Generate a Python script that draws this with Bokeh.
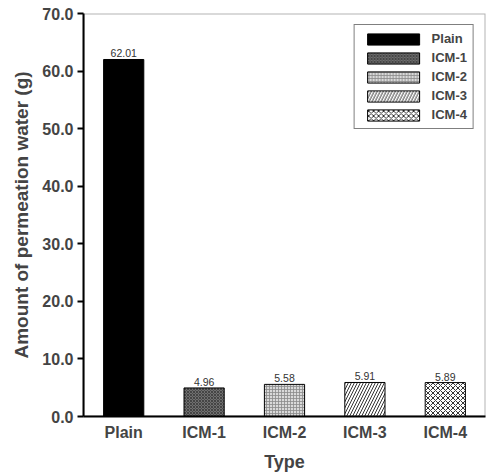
from bokeh.plotting import figure
from bokeh.models import Range1d, FixedTicker, NumeralTickFormatter, ColumnDataSource, Legend, LegendItem, LabelSet, BoxAnnotation
from bokeh.core.properties import value
from bokeh.embed import file_html
from bokeh.resources import INLINE

categories = ["Plain", "ICM-1", "ICM-2", "ICM-3", "ICM-4"]
values = [62.01, 4.96, 5.58, 5.91, 5.89]
value_labels = ["62.01", "4.96", "5.58", "5.91", "5.89"]
y_ticks = [0, 10, 20, 30, 40, 50, 60, 70]

fills = ["#000000", "#707070", "#d9d9d9", "#ffffff", "#ffffff"]
hatches = [" ", "diagonal_cross", "cross", "right_diagonal_line", "diagonal_cross"]
hatch_colors = ["#000000", "#3a3a3a", "#8a8a8a", "#000000", "#000000"]
hatch_scales = [6, 3, 3, 6, 5]

FONT = "Liberation Sans"

p = figure(x_range=categories, width=487, height=474, output_backend="svg",
           toolbar_location=None, min_border_left=83, min_border_right=2,
           min_border_top=13, min_border_bottom=58)
p.y_range = Range1d(0, 70)
p.xgrid.visible = False
p.ygrid.visible = False
p.outline_line_color = None

items = []
for i, c in enumerate(categories):
    src = ColumnDataSource(dict(x=[c], top=[values[i]]))
    r = p.vbar(x="x", top="top", width=0.5, source=src, fill_color=fills[i],
               line_color="black", line_width=1,
               hatch_pattern=hatches[i], hatch_color=hatch_colors[i],
               hatch_scale=hatch_scales[i], hatch_weight=0.8)
    items.append(LegendItem(label=c, renderers=[r]))

lab_src = ColumnDataSource(dict(x=categories, y=values, t=value_labels))
p.add_layout(LabelSet(x="x", y="y", text="t", source=lab_src, text_align="center",
                      text_baseline="bottom", y_offset=2, text_font=value(FONT),
                      text_font_size="10.5px", text_color="#333333"))

p.add_layout(BoxAnnotation(fill_alpha=0, line_color="black", line_width=2))

legend = Legend(items=items, location="top_right")
legend.margin = 11
legend.glyph_width = 65
legend.glyph_height = 14
legend.label_height = 14
legend.spacing = 4
legend.padding = 6
legend.label_standoff = 6
legend.label_text_font = FONT
legend.label_text_font_style = "bold"
legend.label_text_font_size = "13px"
legend.border_line_color = "black"
legend.border_line_width = 1
p.add_layout(legend)

ya = p.yaxis[0]
ya.ticker = FixedTicker(ticks=y_ticks)
ya.formatter = NumeralTickFormatter(format="0.0")
ya.major_tick_in = 0
ya.major_tick_out = 6
ya.minor_tick_line_color = None
ya.axis_line_width = 2
ya.major_tick_line_width = 2
ya.major_label_text_font = FONT
ya.major_label_text_font_style = "bold"
ya.major_label_text_font_size = "16px"
ya.major_label_standoff = 4
ya.axis_label = "Amount of permeation water (g)"
ya.axis_label_text_font = FONT
ya.axis_label_text_font_style = "bold"
ya.axis_label_text_font_size = "19px"
ya.axis_label_standoff = 7

xa = p.xaxis[0]
xa.major_tick_line_color = None
xa.major_tick_out = 0
xa.major_tick_in = 0
xa.minor_tick_line_color = None
xa.axis_line_width = 2
xa.major_label_text_font = FONT
xa.major_label_text_font_style = "bold"
xa.major_label_text_font_size = "16px"
xa.major_label_standoff = 7
xa.axis_label = "Type"
xa.axis_label_text_font = FONT
xa.axis_label_text_font_style = "bold"
xa.axis_label_text_font_size = "18px"
xa.axis_label_standoff = 8

open("out.html", "w").write(file_html(p, INLINE))
